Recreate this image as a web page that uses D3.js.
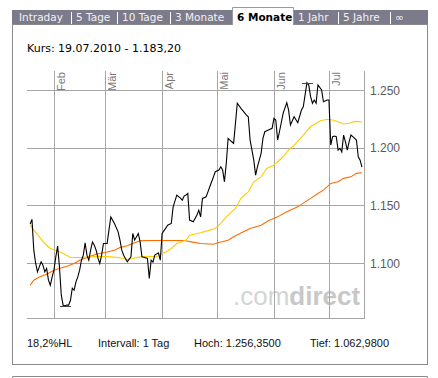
<!DOCTYPE html>
<html>
<head>
<meta charset="utf-8">
<script src="https://cdn.jsdelivr.net/npm/d3@7"></script>
<style>
    body { margin: 0; background: #fff; }
    text { font-family: "DejaVu Sans", Verdana, sans-serif; }
    .arial { font-family: "Liberation Sans", Arial, sans-serif; }
</style>
</head>
<body>
<div id="chart"></div>
<script>
    // Tabs of the period selector
    var tabs = ["Intraday", "5 Tage", "10 Tage", "3 Monate", "6 Monate", "1 Jahr", "5 Jahre", "∞"];
    var activeTab = "6 Monate";
    var intervall = "1 Tag";

    // Schlusskurse (Datum 2010, Wert)
    var kurs = [
        ["01-19", 1133.7], ["01-20", 1137.8], ["01-21", 1111.1], ["01-22", 1099.8], ["01-23", 1092.3],
        ["01-24", 1096.6], ["01-25", 1101.0], ["01-26", 1098.1], ["01-27", 1092.3], ["01-28", 1095.2],
        ["01-29", 1085.1], ["01-30", 1080.7], ["01-31", 1087.9], ["02-01", 1093.8], ["02-02", 1105.3],
        ["02-03", 1114.6], ["02-04", 1096.6], ["02-05", 1072.1], ["02-06", 1063.4], ["02-07", 1062.98],
        ["02-08", 1063.5], ["02-09", 1063.5], ["02-10", 1067.7], ["02-11", 1078.1], ["02-12", 1076.4],
        ["02-13", 1083.6], ["02-14", 1087.9], ["02-15", 1093.8], ["02-16", 1102.4], ["02-17", 1106.8],
        ["02-18", 1117.5], ["02-19", 1106.8], ["02-20", 1102.4], ["02-21", 1111.1], ["02-22", 1118.3],
        ["02-23", 1115.5], ["02-24", 1111.1], ["02-25", 1104.2], ["02-26", 1099.6], ["02-27", 1106.8],
        ["02-28", 1116.9], ["03-02", 1116.9], ["03-03", 1128.5], ["03-04", 1140.0], ["03-06", 1134.3],
        ["03-08", 1127.0], ["03-09", 1119.8], ["03-10", 1111.1], ["03-11", 1106.8], ["03-13", 1101.0],
        ["03-15", 1105.3], ["03-16", 1125.6], ["03-17", 1119.8], ["03-19", 1125.6], ["03-20", 1118.3],
        ["03-21", 1105.3], ["03-22", 1105.0], ["03-24", 1103.9], ["03-25", 1086.6], ["03-26", 1102.4],
        ["03-27", 1100.7], ["03-28", 1106.8], ["03-30", 1108.8], ["03-31", 1102.4], ["04-01", 1125.6],
        ["04-03", 1130.2], ["04-04", 1132.8], ["04-06", 1134.3], ["04-07", 1148.7], ["04-09", 1158.9],
        ["04-11", 1156.3], ["04-12", 1154.5], ["04-13", 1158.0], ["04-14", 1158.9], ["04-15", 1160.3],
        ["04-16", 1137.2], ["04-18", 1135.7], ["04-20", 1141.5], ["04-21", 1145.8], ["04-22", 1140.0],
        ["04-23", 1156.0], ["04-25", 1157.4], ["04-26", 1161.7], ["04-27", 1166.1], ["04-28", 1170.4],
        ["04-29", 1174.7], ["04-30", 1179.1], ["05-02", 1180.6], ["05-03", 1183.4], ["05-04", 1180.6],
        ["05-05", 1170.4], ["05-06", 1186.4], ["05-07", 1208.1], ["05-08", 1206.6], ["05-09", 1205.1],
        ["05-10", 1203.7], ["05-11", 1221.1], ["05-12", 1238.5], ["05-14", 1234.1], ["05-17", 1228.3],
        ["05-18", 1226.8], ["05-19", 1206.6], ["05-21", 1189.2], ["05-22", 1176.2], ["05-23", 1183.4],
        ["05-25", 1195.1], ["05-26", 1208.1], ["05-27", 1213.8], ["05-29", 1215.3], ["05-31", 1216.8],
        ["06-01", 1225.4], ["06-02", 1224.0], ["06-03", 1206.6], ["06-04", 1213.8], ["06-06", 1229.8],
        ["06-08", 1239.0], ["06-09", 1232.6], ["06-10", 1219.6], ["06-12", 1226.8], ["06-14", 1221.6],
        ["06-16", 1232.6], ["06-17", 1235.5], ["06-19", 1256.35], ["06-20", 1254.3], ["06-21", 1244.2],
        ["06-22", 1238.5], ["06-23", 1241.3], ["06-24", 1238.5], ["06-25", 1254.3], ["06-27", 1250.0],
        ["06-28", 1239.8], ["06-30", 1241.3], ["07-01", 1241.3], ["07-02", 1202.3], ["07-03", 1209.5],
        ["07-04", 1210.1], ["07-05", 1209.5], ["07-06", 1197.9], ["07-07", 1199.4], ["07-08", 1196.4],
        ["07-09", 1210.9], ["07-10", 1205.1], ["07-11", 1197.9], ["07-12", 1205.1], ["07-13", 1210.9],
        ["07-14", 1209.5], ["07-16", 1206.6], ["07-17", 1192.1], ["07-18", 1189.2], ["07-19", 1183.2]
    ];

    // gleitender Durchschnitt, kurz (gelb)
    var gdKurz = [
        ["01-19", 1132.8], ["01-21", 1128.5], ["01-24", 1122.7], ["01-27", 1116.9], ["01-30", 1112.6],
        ["02-02", 1111.1], ["02-06", 1108.3], ["02-10", 1104.8], ["02-15", 1104.8], ["02-21", 1105.3],
        ["02-26", 1105.9], ["03-04", 1105.3], ["03-08", 1104.8], ["03-13", 1103.0], ["03-16", 1103.9],
        ["03-20", 1105.3], ["03-26", 1105.9], ["03-29", 1105.3], ["03-31", 1107.6], ["04-03", 1109.6],
        ["04-06", 1112.6], ["04-09", 1116.9], ["04-14", 1119.8], ["04-16", 1124.1], ["04-22", 1126.3],
        ["04-27", 1128.5], ["04-30", 1130.0], ["05-03", 1134.3], ["05-06", 1140.0], ["05-08", 1143.0],
        ["05-11", 1147.3], ["05-14", 1156.0], ["05-18", 1161.7], ["05-21", 1170.4], ["05-25", 1174.7],
        ["05-28", 1182.0], ["06-01", 1184.9], ["06-06", 1192.1], ["06-09", 1197.9], ["06-13", 1203.7],
        ["06-17", 1210.9], ["06-21", 1218.1], ["06-26", 1223.1], ["06-30", 1224.6], ["07-03", 1224.0],
        ["07-06", 1222.5], ["07-09", 1220.5], ["07-12", 1221.1], ["07-15", 1222.8], ["07-18", 1222.5],
        ["07-19", 1222.0]
    ];

    // gleitender Durchschnitt, lang (orange)
    var gdLang = [
        ["01-19", 1080.7], ["01-21", 1085.1], ["01-24", 1087.9], ["01-28", 1090.3], ["02-01", 1093.8],
        ["02-04", 1095.2], ["02-08", 1097.2], ["02-12", 1099.6], ["02-15", 1102.4], ["02-19", 1104.8],
        ["02-24", 1107.6], ["03-02", 1109.6], ["03-06", 1111.1], ["03-09", 1113.5], ["03-13", 1114.9],
        ["03-16", 1116.9], ["03-20", 1119.2], ["03-24", 1119.5], ["03-31", 1119.5], ["04-07", 1119.5],
        ["04-13", 1119.5], ["04-17", 1118.3], ["04-22", 1116.9], ["04-29", 1116.3], ["05-02", 1117.8],
        ["05-07", 1119.8], ["05-10", 1122.7], ["05-14", 1126.1], ["05-19", 1130.0], ["05-25", 1132.8],
        ["05-29", 1136.6], ["06-03", 1140.0], ["06-08", 1144.4], ["06-14", 1148.7], ["06-18", 1153.0],
        ["06-21", 1156.0], ["06-25", 1160.3], ["06-28", 1163.2], ["07-02", 1169.0], ["07-06", 1170.4],
        ["07-09", 1173.4], ["07-13", 1174.7], ["07-16", 1177.7], ["07-19", 1178.2]
    ];

    var yTicks = [1100, 1150, 1200, 1250];
    var monatsNamen = ["Jan", "Feb", "Mär", "Apr", "Mai", "Jun", "Jul", "Aug", "Sep", "Okt", "Nov", "Dez"];

    // layout
    var width = 438, height = 378;
    var plot = { left: 27, right: 364, top: 71, bottom: 318 };
    var tabX = [12, 71, 117, 170, 232, 293, 338, 390];

    var de = d3.formatLocale({ decimal: ",", thousands: ".", grouping: [3], currency: ["", " €"] });
    var parseDay = d3.timeParse("%Y-%m-%d");
    function toPoints(arr) { return arr.map(function (d) { return { date: parseDay("2010-" + d[0]), value: d[1] }; }); }

    var kursPts = toPoints(kurs), kurzPts = toPoints(gdKurz), langPts = toPoints(gdLang);

    var x = d3.scaleTime()
        .domain([new Date(2010, 0, 17, 7), new Date(2010, 6, 20, 3)])
        .range([plot.left, plot.right]);
    var y = d3.scaleLinear()
        .domain([1100, 1250])
        .range([263, 90]);

    var svg = d3.select("#chart").append("svg")
        .attr("width", width)
        .attr("height", height);

    // panel boxes
    svg.append("rect")
        .attr("x", 12.5).attr("y", 24.5).attr("width", 415).attr("height", 340)
        .attr("fill", "#fff").attr("stroke", "#8a8a8a");
    svg.append("path")
        .attr("d", "M12.5,380V376.5H427.5V380")
        .attr("fill", "none").attr("stroke", "#8a8a8a");

    // tab bar
    svg.append("rect")
        .attr("x", 12).attr("y", 10).attr("width", 416).attr("height", 14)
        .attr("fill", "#7b7b8c");

    var tab = svg.append("g").selectAll("g")
        .data(tabs)
        .enter().append("g");

    tab.filter(function (d) { return d === activeTab; })
        .append("path")
        .attr("d", function (d) {
            var i0 = tabs.indexOf(d);
            return "M" + (tabX[i0] + 0.5) + ",25V7.5H" + (tabX[i0 + 1] + 0.5) + "V25";
        })
        .attr("fill", "#fff").attr("stroke", "#9a9a9a");

    tab.filter(function (d, i) { return i > 0 && d !== activeTab && tabs[i - 1] !== activeTab; })
        .append("line")
        .attr("x1", function (d) { return tabX[tabs.indexOf(d)] + 0.5; })
        .attr("x2", function (d) { return tabX[tabs.indexOf(d)] + 0.5; })
        .attr("y1", 12).attr("y2", 24)
        .attr("stroke", "#fff");

    tab.append("text")
        .attr("x", function (d, i) { return tabX[i] + (i === 0 ? 7 : 5); })
        .attr("y", 20.5)
        .attr("font-size", "10.5px")
        .attr("font-weight", function (d) { return d === activeTab ? "bold" : "normal"; })
        .attr("fill", function (d) { return d === activeTab ? "#000" : "#f2f2f2"; })
        .text(function (d) { return d; });

    // Kurs headline
    var last = kursPts[kursPts.length - 1];
    svg.append("text")
        .attr("x", 27).attr("y", 52)
        .attr("font-size", "11px")
        .attr("fill", "#000")
        .text("Kurs: " + d3.timeFormat("%d.%m.%Y")(last.date) + " - " + de.format(",.2f")(last.value));

    // watermark
    var wm = svg.append("text")
        .attr("class", "arial")
        .attr("x", 233).attr("y", 305)
        .attr("font-size", "26px");
    wm.append("tspan").attr("fill", "#d4d4d4").text(".com");
    wm.append("tspan").attr("fill", "#c8c8c8").attr("font-weight", "bold").text("direct");

    // grid
    var grid = svg.append("g").attr("stroke", "#a6a6a6").attr("shape-rendering", "crispEdges");
    grid.selectAll(".hg")
        .data(yTicks)
        .enter().append("line")
        .attr("x1", plot.left).attr("x2", plot.right)
        .attr("y1", function (d) { return Math.round(y(d)) + 0.5; })
        .attr("y2", function (d) { return Math.round(y(d)) + 0.5; });

    var months = d3.timeMonth.range(new Date(2010, 1, 1), x.domain()[1]);
    grid.selectAll(".vg")
        .data(months)
        .enter().append("line")
        .attr("x1", function (d) { return Math.round(x(d)) + 0.5; })
        .attr("x2", function (d) { return Math.round(x(d)) + 0.5; })
        .attr("y1", plot.top).attr("y2", plot.bottom);

    grid.append("path")
        .attr("fill", "none")
        .attr("d", "M" + plot.left + "," + (plot.bottom + 0.5) + "H" + (plot.right + 0.5) + "V" + plot.top);

    // month labels
    svg.append("g").selectAll("text")
        .data(months)
        .enter().append("text")
        .attr("class", "arial")
        .attr("transform", function (d) { return "translate(" + (Math.round(x(d)) + 11) + "," + (plot.top + 1) + ") rotate(-90)"; })
        .attr("text-anchor", "end")
        .attr("font-size", "11px")
        .attr("fill", "#7a7a7a")
        .text(function (d) { return monatsNamen[d.getMonth()]; });

    // y labels
    svg.append("g").selectAll("text")
        .data(yTicks)
        .enter().append("text")
        .attr("class", "arial")
        .attr("x", 370)
        .attr("y", function (d) { return y(d) + 4.5; })
        .attr("font-size", "12px")
        .attr("fill", "#5a5a5a")
        .text(function (d) { return de.format(",.0f")(d); });

    // lines
    var line = d3.line()
        .x(function (d) { return x(d.date); })
        .y(function (d) { return y(d.value); });

    svg.append("path").datum(langPts)
        .attr("fill", "none").attr("stroke", "#ff6a00").attr("stroke-width", 1.1)
        .attr("d", line);
    svg.append("path").datum(kurzPts)
        .attr("fill", "none").attr("stroke", "#ffcc00").attr("stroke-width", 1.1)
        .attr("d", line);
    svg.append("path").datum(kursPts)
        .attr("fill", "none").attr("stroke", "#000").attr("stroke-width", 1.1)
        .attr("d", line);

    // high / low markers
    var hoch = kursPts.reduce(function (a, b) { return b.value > a.value ? b : a; });
    var tief = kursPts.reduce(function (a, b) { return b.value < a.value ? b : a; });
    [hoch, tief].forEach(function (p) {
        svg.append("line")
            .attr("x1", x(p.date) - 5).attr("x2", x(p.date) + 6)
            .attr("y1", Math.round(y(p.value)) + 0.5).attr("y2", Math.round(y(p.value)) + 0.5)
            .attr("stroke", "#444");
    });

    // footer stats
    var stats = [
        de.format(".1f")((hoch.value - tief.value) / tief.value * 100) + "%HL",
        "Intervall: " + intervall,
        "Hoch: " + de.format(",.4f")(hoch.value),
        "Tief: " + de.format(",.4f")(tief.value)
    ];
    var statX = [27, 98, 194, 310];
    svg.append("g").selectAll("text")
        .data(stats)
        .enter().append("text")
        .attr("class", "arial")
        .attr("x", function (d, i) { return statX[i]; })
        .attr("y", 347)
        .attr("font-size", "11px")
        .attr("fill", "#111")
        .text(function (d) { return d; });
</script>
</body>
</html>
